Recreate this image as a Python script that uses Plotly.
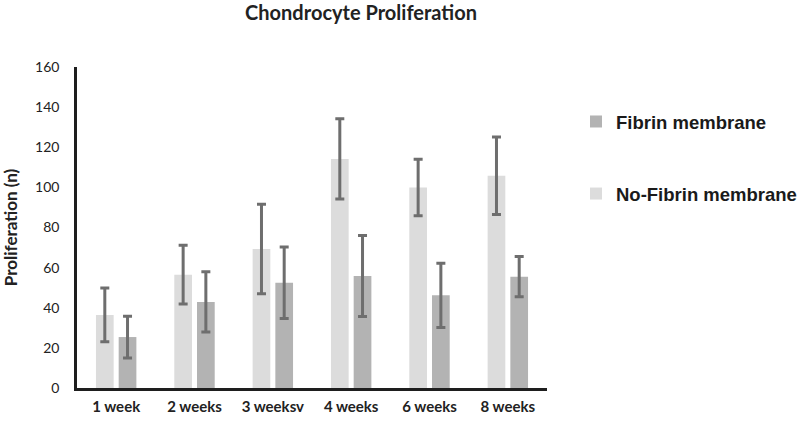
import plotly.graph_objects as go

categories = ["1 week", "2 weeks", "3 weeksv", "4 weeks", "6 weeks", "8 weeks"]
no_fibrin = [36.4, 56.5, 69.3, 114.2, 99.9, 105.8]
no_fibrin_err = [13.4, 14.6, 22.3, 20.0, 14.1, 19.3]
fibrin = [25.4, 42.9, 52.5, 55.8, 46.2, 55.5]
fibrin_err = [10.4, 15.0, 17.8, 20.2, 16.0, 10.0]
y_ticks = [0, 20, 40, 60, 80, 100, 120, 140, 160]

LIGHT = "#dcdcdc"
DARK = "#b3b3b3"
ERR = "#6e6e6e"
AXIS = "#1e1e1e"
FONT = "Lato, 'Open Sans', sans-serif"

fig = go.Figure()
fig.add_trace(go.Bar(
    x=categories, y=no_fibrin, name="<b>No-Fibrin membrane</b>",
    marker=dict(color=LIGHT, line=dict(width=0)),
    width=0.226, offset=-0.258,
    error_y=dict(type="data", array=no_fibrin_err, color=ERR, thickness=3, width=4.5),
    legendrank=2, legendgroup="b",
))
fig.add_trace(go.Bar(
    x=categories, y=fibrin, name="<b>Fibrin membrane</b>",
    marker=dict(color=DARK, line=dict(width=0)),
    width=0.226, offset=0.032,
    error_y=dict(type="data", array=fibrin_err, color=ERR, thickness=3, width=4.5),
    legendrank=1, legendgroup="a",
))

fig.update_layout(
    width=797, height=422,
    margin=dict(l=77, r=250, t=67, b=34),
    paper_bgcolor="white", plot_bgcolor="white",
    barmode="overlay",
    title=dict(text="<b>Chondrocyte Proliferation</b>", x=0.453, xref="container",
               xanchor="center",
               y=0.969, yref="container", yanchor="middle",
               font=dict(family=FONT, size=20, color="#222")),
    font=dict(family=FONT, color="#222"),
    showlegend=True,
    legend=dict(x=0.7227, xref="container", xanchor="left",
                y=0.756, yref="container", yanchor="top",
                font=dict(family="'Liberation Sans', Arial, sans-serif", size=18.5, color="#1a1a1a"),
                tracegroupgap=45, traceorder="grouped",
                bgcolor="rgba(0,0,0,0)", itemclick=False),
    xaxis=dict(
        type="category", range=[-0.5, 5.5], automargin=False,
        showline=True, linecolor=AXIS, linewidth=2.5,
        showgrid=False, zeroline=False, ticks="",
        ticklabelstandoff=3,
        tickfont=dict(family=FONT, size=15, color="#222"),
        fixedrange=True,
    ),
    yaxis=dict(
        range=[0, 160], tickvals=y_ticks, automargin=False,
        showline=True, linecolor=AXIS, linewidth=2.5,
        showgrid=False, zeroline=False, ticks="",
        ticklabelstandoff=12,
        tickfont=dict(family=FONT, size=14, color="#222"),
        title=dict(text="<b>Proliferation (n)</b>", standoff=16,
                   font=dict(family=FONT, size=17, color="#222")),
        fixedrange=True,
    ),
)
fig.update_xaxes(tickprefix="<b>", ticksuffix="</b>")
fig.update_yaxes(tickprefix="<b>", ticksuffix="</b>")

fig.write_html("out.html", config={"displayModeBar": False},
               post_script="document.body.style.margin='0';")
